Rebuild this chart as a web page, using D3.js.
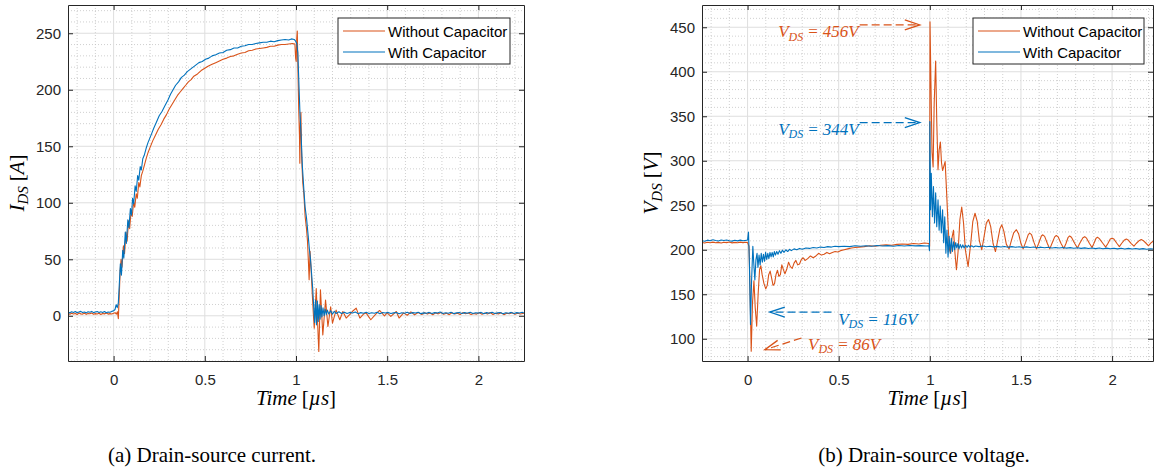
<!DOCTYPE html>
<html>
<head>
<meta charset="utf-8">
<script src="https://cdn.jsdelivr.net/npm/d3@7"></script>
<style>
  body { margin: 0; background: #fff; }
  svg { display: block; font-family: "Liberation Sans", Arial, sans-serif; }
</style>
</head>
<body>
<svg id="fig" width="1155" height="471"></svg>
<script>
// ---------- series: [time (µs), value] ----------
// Drain-source current without the snubber capacitor [A]
const idsWithout = [
  [-0.25,1.9],[-0.24,1.4],[-0.23,2.3],[-0.22,1.6],[-0.21,2.1],[-0.20,1.2],[-0.19,2.4],[-0.18,1.7],[-0.17,1.5],[-0.16,2.2],
  [-0.15,1.3],[-0.14,2.0],[-0.13,1.8],[-0.12,2.5],[-0.11,1.4],[-0.10,1.9],[-0.09,1.6],[-0.08,2.3],[-0.07,1.1],[-0.06,2.0],
  [-0.05,1.7],[-0.04,2.4],[-0.03,1.5],[-0.02,1.9],[-0.01,1.6],[0.00,2.2],[0.008,2.8],[0.015,1.5],[0.021,3.5],[0.026,-2.5],
  [0.031,18],[0.036,40],[0.041,50],[0.046,43],[0.054,62],[0.06,55],[0.068,74],[0.074,66],[0.082,84],[0.088,77],
  [0.096,93],[0.102,88],[0.11,101],[0.116,96],[0.124,108],[0.13,104],[0.138,118],[0.144,114],[0.152,124],[0.16,128],
  [0.17,134],[0.18,140],[0.19,145],[0.2,149],[0.215,155],[0.23,160],[0.245,165],[0.26,169],[0.275,174],[0.29,178],
  [0.305,183],[0.32,187],[0.335,191],[0.35,195],[0.365,198],[0.38,201],[0.395,204],[0.41,207],[0.425,209],[0.44,212],
  [0.46,214],[0.48,217],[0.5,219],[0.52,221],[0.54,222.5],[0.56,224],[0.58,225.5],[0.6,227],[0.62,228],[0.64,229.5],
  [0.66,230],[0.68,231.5],[0.7,232.5],[0.72,233],[0.74,234.5],[0.76,235],[0.78,236],[0.8,236.5],[0.82,237],[0.84,237.5],
  [0.86,238.5],[0.88,238.5],[0.9,239.5],[0.92,240],[0.94,240],[0.96,240.5],[0.98,241],[0.994,240.5],
  [0.998,228],[1.001,225],[1.004,245],[1.007,252],[1.011,215],[1.015,182],[1.019,160],[1.021,135],[1.024,170],[1.027,180],
  [1.031,140],[1.037,118],[1.043,108],[1.05,88],[1.057,78],[1.063,66],[1.068,48],[1.072,32],[1.077,57],[1.083,40],
  [1.09,17],[1.095,2],[1.1,-11],[1.111,24],[1.125,-31.6],[1.134,23],[1.147,-17],[1.162,14],[1.175,-9.5],[1.19,8],
  [1.2,-6.5],[1.22,5],[1.24,-3.5],[1.257,3.8],[1.275,-2],[1.294,1],[1.31,4],[1.33,6.8],[1.35,-2],[1.37,1.5],
  [1.385,2.4],[1.41,-3.5],[1.435,1],[1.458,4.7],[1.485,0],[1.5,2.5],[1.52,-0.5],[1.55,3.8],[1.565,-2],[1.59,2.6],
  [1.61,0.5],[1.63,3.5],[1.65,0.8],[1.67,2.9],[1.69,1.2],[1.705,2.8],[1.72,1.5],[1.735,2.4],[1.75,0.9],[1.765,2.6],
  [1.78,1.7],[1.795,2.9],[1.81,1.3],[1.825,2.2],[1.84,1.0],[1.855,2.7],[1.87,1.6],[1.885,2.3],[1.9,1.1],[1.915,2.8],
  [1.93,1.8],[1.945,2.5],[1.96,1.2],[1.975,2.1],[1.99,1.5],[2.005,2.7],[2.02,1.3],[2.035,2.4],[2.05,1.6],[2.065,2.9],
  [2.08,1.1],[2.095,2.2],[2.11,1.7],[2.125,2.6],[2.14,1.0],[2.155,2.3],[2.17,1.8],[2.185,2.7],[2.2,1.4],[2.215,2.2],
  [2.23,1.6],[2.25,2.3]
];

// Drain-source current with the snubber capacitor [A]
const idsWith = [
  [-0.25,3.1],[-0.24,2.6],[-0.23,3.5],[-0.22,3.0],[-0.21,3.8],[-0.20,2.7],[-0.19,3.3],[-0.18,3.9],[-0.17,2.9],[-0.16,3.4],
  [-0.15,2.6],[-0.14,3.6],[-0.13,3.1],[-0.12,3.9],[-0.11,2.8],[-0.10,3.3],[-0.09,3.7],[-0.08,2.9],[-0.07,3.5],[-0.06,3.0],
  [-0.05,3.8],[-0.04,2.7],[-0.03,3.4],[-0.02,3.2],[-0.01,3.9],[0.00,4.5],[0.008,5.6],[0.014,9.8],[0.02,7.2],[0.026,11.5],
  [0.031,27],[0.037,46],[0.043,36],[0.05,58],[0.056,51],[0.064,74],[0.07,64],[0.078,85],[0.084,78],[0.092,95],
  [0.098,89],[0.104,104],[0.11,99],[0.118,115],[0.124,110],[0.132,124],[0.138,120],[0.146,132],[0.152,129],[0.16,139],
  [0.168,142],[0.178,148],[0.188,153],[0.198,157],[0.208,161],[0.22,166],[0.234,171],[0.25,177],[0.266,181],[0.282,186],
  [0.298,191],[0.312,196],[0.326,200],[0.34,204],[0.356,207],[0.372,211],[0.388,213],[0.404,216],[0.42,218],[0.436,220],
  [0.452,222],[0.468,224],[0.486,225],[0.504,227],[0.522,228],[0.54,230],[0.56,231],[0.58,232.5],[0.6,233],[0.62,235],
  [0.64,235.5],[0.66,237],[0.68,237],[0.7,238.5],[0.72,239],[0.74,240],[0.76,240],[0.78,241],[0.8,241.5],[0.82,242],
  [0.84,242],[0.86,243],[0.88,242.5],[0.9,243.5],[0.92,244],[0.94,244.5],[0.96,244],[0.975,245],[0.99,244.5],[0.998,243],
  [1.004,241],[1.01,233],[1.016,205],[1.022,178],[1.028,160],[1.035,132],[1.043,112],[1.05,96],[1.058,86],[1.066,72],
  [1.074,58],[1.08,49],[1.086,36],[1.092,23],[1.097,8],[1.102,-6],[1.107,14],[1.112,-8],[1.117,13],[1.122,-5],
  [1.127,10],[1.132,-3],[1.137,9],[1.142,-1],[1.148,7],[1.154,0],[1.16,6],[1.166,1],[1.172,5],[1.18,1.5],
  [1.19,4.5],[1.2,1.5],[1.21,4],[1.22,2],[1.235,3.5],[1.25,2],[1.265,3.2],[1.28,2.1],[1.295,3.0],[1.31,2.4],
  [1.325,3.3],[1.34,1.9],[1.355,2.8],[1.37,2.2],[1.385,3.1],[1.4,2.0],[1.415,2.7],[1.43,2.3],[1.445,3.2],[1.46,1.8],
  [1.475,2.9],[1.49,2.4],[1.505,3.0],[1.52,2.0],[1.535,2.6],[1.55,2.9],[1.565,1.8],[1.58,2.7],[1.595,2.2],[1.61,3.1],
  [1.625,2.0],[1.64,2.8],[1.655,2.4],[1.67,3.2],[1.685,1.9],[1.7,2.6],[1.715,2.3],[1.73,3.0],[1.745,2.1],[1.76,2.8],
  [1.775,2.5],[1.79,3.3],[1.805,2.0],[1.82,2.7],[1.835,2.2],[1.85,3.1],[1.865,1.9],[1.88,2.6],[1.895,2.9],[1.91,2.0],
  [1.925,2.8],[1.94,2.3],[1.955,3.2],[1.97,2.1],[1.985,2.7],[2.0,2.4],[2.015,3.0],[2.03,1.9],[2.045,2.8],[2.06,2.2],
  [2.075,3.1],[2.09,2.0],[2.105,2.6],[2.12,2.9],[2.135,1.8],[2.15,2.7],[2.165,2.3],[2.18,3.0],[2.195,2.1],[2.21,2.8],
  [2.225,2.4],[2.24,3.1],[2.25,2.5]
];

// Drain-source voltage without the snubber capacitor [V]
const vdsWithout = [
  [-0.25,208.1],[-0.235,207.5],[-0.22,208.4],[-0.205,207.8],[-0.19,208.6],[-0.175,207.9],[-0.16,208.3],[-0.145,207.6],
  [-0.13,208.5],[-0.115,208.0],[-0.1,208.7],[-0.085,207.7],[-0.07,208.3],[-0.055,207.9],[-0.04,208.6],[-0.025,208.0],
  [-0.01,208.4],[0.0,208],[0.008,204],[0.014,150],[0.02,86],[0.027,140],[0.035,165],[0.042,135],[0.05,114],[0.058,150],
  [0.066,178],[0.073,182],[0.08,172],[0.09,162],[0.1,156],[0.108,160],[0.116,172],[0.124,176],[0.132,168],[0.14,160],
  [0.148,162],[0.156,172],[0.164,177],[0.172,170],[0.18,172],[0.188,183],[0.196,178],[0.205,173],[0.215,178],[0.225,186],
  [0.235,181],[0.245,179],[0.255,185],[0.265,188],[0.275,183],[0.285,184],[0.295,189],[0.305,191],[0.315,188],[0.33,190],
  [0.345,193],[0.36,191],[0.375,193],[0.39,196],[0.405,194],[0.42,195],[0.435,197],[0.45,195.5],[0.465,197],[0.48,198],
  [0.495,197.5],[0.51,199],[0.53,200],[0.55,201],[0.57,202],[0.59,202.5],[0.61,203],[0.64,203.5],[0.67,204.5],[0.7,204],
  [0.73,205],[0.76,205.5],[0.79,205],[0.82,206],[0.85,206.5],[0.88,206],[0.91,207],[0.94,206.5],[0.97,207.5],[0.995,207],
  [0.999,204],[1.001,456],[1.006,390],[1.012,310],[1.018,293],[1.024,365],[1.032,412],[1.038,345],[1.045,290],[1.051,312],
  [1.058,321],[1.064,298],[1.07,289],[1.077,294],[1.084,299],[1.092,265],[1.1,228],[1.108,200],[1.115,196],[1.122,214],
  [1.13,222],[1.138,196],[1.146,177.5],[1.155,198],[1.165,234],[1.175,248],[1.185,230],[1.195,200],[1.21,181],[1.225,208],
  [1.236,232],[1.248,241],[1.26,232],[1.272,210],[1.285,200],[1.297,214],[1.31,230],[1.322,234],[1.334,226],[1.347,207],
  [1.36,198],[1.372,210],[1.385,224],[1.395,228],[1.406,221],[1.42,206],[1.435,201],[1.447,210],[1.46,219],[1.475,222.5],
  [1.487,218],[1.5,207],[1.512,201],[1.525,208],[1.54,217],[1.548,218.7],[1.558,217],[1.572,208],[1.585,201],
  [1.597,207],[1.612,215.5],[1.62,216.8],[1.63,215],[1.645,207],[1.658,201],
  [1.67,207],[1.685,214.5],[1.694,216],[1.704,214.5],[1.72,207],[1.735,201.5],
  [1.747,207],[1.759,214],[1.767,215.5],[1.777,214],[1.795,207],[1.81,202],
  [1.822,207],[1.84,213.5],[1.85,214.7],[1.86,213],[1.876,207],[1.89,202.5],
  [1.9,207],[1.912,213],[1.92,214],[1.93,212.5],[1.95,207],[1.965,203],
  [1.977,207],[1.99,212],[2.0,213],[2.01,212],[2.027,207],[2.04,203.5],
  [2.052,207],[2.068,211],[2.078,212],[2.088,211],[2.105,207],[2.12,204],
  [2.132,207],[2.15,210.5],[2.16,211.5],[2.17,210.5],[2.188,207],[2.2,204.5],
  [2.212,207.5],[2.225,209.5]
];

// Drain-source voltage with the snubber capacitor [V]
const vdsWith = [
  [-0.25,210.2],[-0.235,209.6],[-0.22,210.8],[-0.205,210.1],[-0.19,211.2],[-0.175,210.4],[-0.16,209.8],[-0.145,210.9],
  [-0.13,210.3],[-0.115,211.0],[-0.1,210.2],[-0.085,209.7],[-0.07,210.6],[-0.055,210.0],[-0.04,210.8],[-0.025,210.1],
  [-0.01,210.5],[0.0,211],[0.005,220],[0.01,185],[0.016,116],[0.022,165],[0.029,204],[0.034,185],[0.04,166],[0.046,189],
  [0.052,196],[0.057,180],[0.063,194],[0.069,183],[0.075,196],[0.081,186],[0.087,195],[0.093,187],[0.099,197],[0.105,189],
  [0.111,196],[0.117,190],[0.123,197],[0.129,192],[0.135,197],[0.141,192],[0.147,198],[0.153,194],[0.16,198],[0.167,195],
  [0.175,199],[0.183,196],[0.191,199.5],[0.2,197],[0.21,200],[0.22,198],[0.23,200.5],[0.24,199],[0.255,201],[0.27,200],
  [0.285,201.5],[0.3,200.5],[0.32,202],[0.34,201.5],[0.36,202.5],[0.38,202],[0.4,203],[0.42,202.5],[0.44,203.5],[0.46,203],
  [0.48,204],[0.5,203.5],[0.53,204],[0.56,203.5],[0.59,204.5],[0.62,204],[0.65,204.5],[0.68,204],[0.71,204.8],[0.74,204.2],
  [0.77,204.6],[0.8,204],[0.83,204.7],[0.86,204.2],[0.89,204.8],[0.92,204.3],[0.95,204.6],[0.98,204.2],[0.995,204.5],[0.998,199],
  [1.0,344],[1.004,245],[1.008,286],[1.014,237],[1.02,271],[1.026,230],[1.032,264],[1.038,226],[1.045,256],[1.051,222],
  [1.057,249],[1.063,219],[1.07,245],[1.076,208],[1.082,237],[1.088,196],[1.094,222],[1.1,192],[1.106,215],[1.112,196],
  [1.118,213],[1.124,198],[1.13,209],[1.136,200],[1.142,208],[1.148,202],[1.154,207],[1.16,201],[1.167,206],[1.174,202],
  [1.181,205.5],[1.188,202],[1.196,205],[1.204,202.5],[1.212,205],[1.22,203],[1.23,204.5],[1.24,203],[1.25,204.2],[1.27,203.5],
  [1.29,204.2],[1.31,203.4],[1.33,204],[1.35,203.2],[1.37,203.8],[1.39,203.1],[1.41,203.7],[1.43,202.9],[1.45,203.5],[1.47,202.8],
  [1.49,203.4],[1.51,202.6],[1.53,203.2],[1.55,202.5],[1.57,203.1],[1.59,202.3],[1.61,202.9],[1.63,202.2],[1.65,202.8],[1.67,202.0],
  [1.69,202.6],[1.71,201.9],[1.73,202.5],[1.75,201.8],[1.77,202.4],[1.79,201.6],[1.81,202.2],[1.83,201.5],[1.85,202.1],[1.87,201.4],
  [1.89,202.0],[1.91,201.3],[1.93,201.9],[1.95,201.2],[1.97,201.8],[1.99,201.1],[2.01,201.7],[2.03,201.0],[2.05,201.6],[2.07,200.9],
  [2.09,201.5],[2.11,200.8],[2.13,201.4],[2.15,200.7],[2.17,201.3],[2.19,200.6],[2.21,201.2],[2.225,200.8]
];

// ---------- ticks, labels, legend ----------
const timeTicks = [0, 0.5, 1, 1.5, 2];
const timeTickLabels = ["0", "0.5", "1", "1.5", "2"];
const currentTicks = [0, 50, 100, 150, 200, 250];
const voltageTicks = [100, 150, 200, 250, 300, 350, 400, 450];
const seriesNames = ["Without Capacitor", "With Capacitor"];
const seriesColors = ["#D95319", "#0072BD"];

// Peak / dip call-outs on the voltage plot: label value, colour index, text anchor (t, V), arrow tail, arrow tip
const vdsNotes = [
  { value: "456V", c: 0, text: [0.168, 438.8], tail: [0.615, 452.6], tip: [0.945, 452.6] },
  { value: "344V", c: 1, text: [0.168, 329.0], tail: [0.615, 342.9], tip: [0.945, 342.9] },
  { value: "116V", c: 1, text: [0.497, 115.8], tail: [0.460, 130.0], tip: [0.122, 130.0] },
  { value: "86V",  c: 0, text: [0.332, 87.7],  tail: [0.296, 100.9], tip: [0.095, 87.7] }
];

const svg = d3.select("#fig");
const AX = "#262626";
const MATH = "'Liberation Serif', 'Times New Roman', serif";

function drawPanel(o) {
  const x = d3.scaleLinear().domain(o.xDomain).range([o.left, o.right]);
  const y = d3.scaleLinear().domain(o.yDomain).range([o.bottom, o.top]);
  const g = svg.append("g");

  // minor grid (dotted)
  const minorX = d3.range(-20, 23).map(d => d / 10).filter(d => Math.abs(d * 2 - Math.round(d * 2)) > 1e-6 && d > o.xDomain[0] && d < o.xDomain[1]);
  const minorY = d3.range(Math.ceil(o.yDomain[0] / 10) * 10, o.yDomain[1], 10).filter(d => d % 50 !== 0);
  g.append("g").selectAll("line.mx").data(minorX).join("line")
    .attr("x1", d => x(d)).attr("x2", d => x(d)).attr("y1", o.top).attr("y2", o.bottom)
    .attr("stroke", "#c4c4c4").attr("stroke-width", 0.8).attr("stroke-dasharray", "1,2");
  g.append("g").selectAll("line.my").data(minorY).join("line")
    .attr("x1", o.left).attr("x2", o.right).attr("y1", d => y(d)).attr("y2", d => y(d))
    .attr("stroke", "#c4c4c4").attr("stroke-width", 0.8).attr("stroke-dasharray", "1,2");

  // major grid
  g.append("g").selectAll("line").data(timeTicks).join("line")
    .attr("x1", d => x(d)).attr("x2", d => x(d)).attr("y1", o.top).attr("y2", o.bottom)
    .attr("stroke", "#dedede").attr("stroke-width", 1);
  g.append("g").selectAll("line").data(o.yTicks).join("line")
    .attr("x1", o.left).attr("x2", o.right).attr("y1", d => y(d)).attr("y2", d => y(d))
    .attr("stroke", "#dedede").attr("stroke-width", 1);

  // data
  const clipId = "clip" + o.id;
  svg.append("clipPath").attr("id", clipId).append("rect")
    .attr("x", o.left).attr("y", o.top).attr("width", o.right - o.left).attr("height", o.bottom - o.top);
  const line = d3.line().x(d => x(d[0])).y(d => y(d[1]));
  const lines = g.append("g").attr("clip-path", `url(#${clipId})`);
  o.series.forEach((s, i) => {
    lines.append("path").datum(s).attr("d", line)
      .attr("fill", "none").attr("stroke", seriesColors[i]).attr("stroke-width", 1.1)
      .attr("stroke-linejoin", "round");
  });

  // axes (ticks inward on all four sides)
  const styleAxis = sel => {
    sel.select(".domain").attr("stroke", AX).attr("stroke-width", 1);
    sel.selectAll(".tick line").attr("stroke", AX);
    sel.selectAll("text").attr("fill", AX).attr("font-size", 15)
      .attr("font-family", "'Liberation Sans', Arial, sans-serif");
  };
  g.append("g").attr("transform", `translate(0,${o.bottom})`)
    .call(d3.axisBottom(x).tickValues(timeTicks).tickFormat((d, i) => timeTickLabels[i])
      .tickSizeInner(-5).tickSizeOuter(0).tickPadding(13))
    .call(styleAxis);
  g.append("g").attr("transform", `translate(0,${o.top})`)
    .call(d3.axisTop(x).tickValues(timeTicks).tickFormat("").tickSizeInner(-5).tickSizeOuter(0))
    .call(styleAxis);
  g.append("g").attr("transform", `translate(${o.left},0)`)
    .call(d3.axisLeft(y).tickValues(o.yTicks).tickSizeInner(-5).tickSizeOuter(0).tickPadding(7))
    .call(styleAxis);
  g.append("g").attr("transform", `translate(${o.right},0)`)
    .call(d3.axisRight(y).tickValues(o.yTicks).tickFormat("").tickSizeInner(-5).tickSizeOuter(0))
    .call(styleAxis);

  // y label
  const yl = g.append("text").attr("transform", `translate(${o.yLabelX},${(o.top + o.bottom) / 2}) rotate(-90)`)
    .attr("text-anchor", "middle").attr("font-family", MATH).attr("font-size", 21).attr("fill", "#000");
  yl.append("tspan").attr("font-style", "italic").text(o.yVar);
  yl.append("tspan").attr("font-style", "italic").attr("font-size", 15).attr("dy", 4).text("DS");
  yl.append("tspan").attr("dy", -4).attr("dx", 5).text("[");
  yl.append("tspan").attr("font-style", "italic").text(o.yUnit);
  yl.append("tspan").text("]");

  // x label
  const xl = g.append("text").attr("x", (o.left + o.right) / 2).attr("y", 405)
    .attr("text-anchor", "middle").attr("font-family", MATH).attr("font-size", 21).attr("fill", "#000");
  xl.append("tspan").attr("font-style", "italic").text("Time");
  xl.append("tspan").attr("dx", 5).text("[");
  xl.append("tspan").attr("font-style", "italic").text("µs");
  xl.append("tspan").text("]");

  // legend
  const lg = g.append("g");
  lg.append("rect").attr("x", o.legend[0]).attr("y", 18).attr("width", o.legend[1]).attr("height", 46)
    .attr("fill", "#fff").attr("stroke", AX).attr("stroke-width", 1);
  seriesNames.forEach((name, i) => {
    const cy = 31 + i * 21;
    lg.append("line").attr("x1", o.legend[0] + 5).attr("x2", o.legend[0] + 47).attr("y1", cy).attr("y2", cy)
      .attr("stroke", seriesColors[i]).attr("stroke-width", 1.1);
    lg.append("text").attr("x", o.legend[0] + 50).attr("y", cy + 6).attr("font-size", 15).attr("fill", "#000")
      .text(name);
  });

  // caption
  svg.append("text").attr("x", o.captionX).attr("y", 462).attr("text-anchor", "middle")
    .attr("font-family", MATH).attr("font-size", 21).attr("fill", "#000").text(o.caption);

  return { x, y, g };
}

drawPanel({
  id: "a", left: 68, right: 524, top: 5, bottom: 361,
  xDomain: [-0.25, 2.25], yDomain: [-40, 275], yTicks: currentTicks,
  series: [idsWithout, idsWith], yVar: "I", yUnit: "A", yLabelX: 24,
  legend: [338, 172], caption: "(a) Drain-source current.", captionX: 212
});

const vp = drawPanel({
  id: "b", left: 702, right: 1153, top: 5, bottom: 361,
  xDomain: [-0.25, 2.2245], yDomain: [75, 475], yTicks: voltageTicks,
  series: [vdsWithout, vdsWith], yVar: "V", yUnit: "V", yLabelX: 658,
  legend: [973, 171], caption: "(b) Drain-source voltage.", captionX: 924
});

// call-outs
vdsNotes.forEach(n => {
  const col = seriesColors[n.c];
  const tx = vp.x(n.tail[0]), ty = vp.y(n.tail[1]);
  const hx = vp.x(n.tip[0]), hy = vp.y(n.tip[1]);
  vp.g.append("line").attr("x1", tx).attr("y1", ty).attr("x2", hx).attr("y2", hy)
    .attr("stroke", col).attr("stroke-width", 1.2).attr("stroke-dasharray", "8,4");
  const ang = Math.atan2(hy - ty, hx - tx);
  const L = 15, W = 5;
  const bx = hx - L * Math.cos(ang), by = hy - L * Math.sin(ang);
  const px = -Math.sin(ang) * W, py = Math.cos(ang) * W;
  vp.g.append("path")
    .attr("d", `M${bx + px},${by + py}L${hx},${hy}L${bx - px},${by - py}`)
    .attr("fill", "none").attr("stroke", col).attr("stroke-width", 1.3);
  const t = vp.g.append("text").attr("x", vp.x(n.text[0])).attr("y", vp.y(n.text[1]))
    .attr("font-family", MATH).attr("font-size", 17).attr("fill", col);
  t.append("tspan").attr("font-style", "italic").text("V");
  t.append("tspan").attr("font-style", "italic").attr("font-size", 12).attr("dy", 3.5).text("DS");
  t.append("tspan").attr("dy", -3.5).attr("dx", 5).text("=");
  t.append("tspan").attr("dx", 5).attr("font-style", "italic").text(n.value);
});
</script>
</body>
</html>
